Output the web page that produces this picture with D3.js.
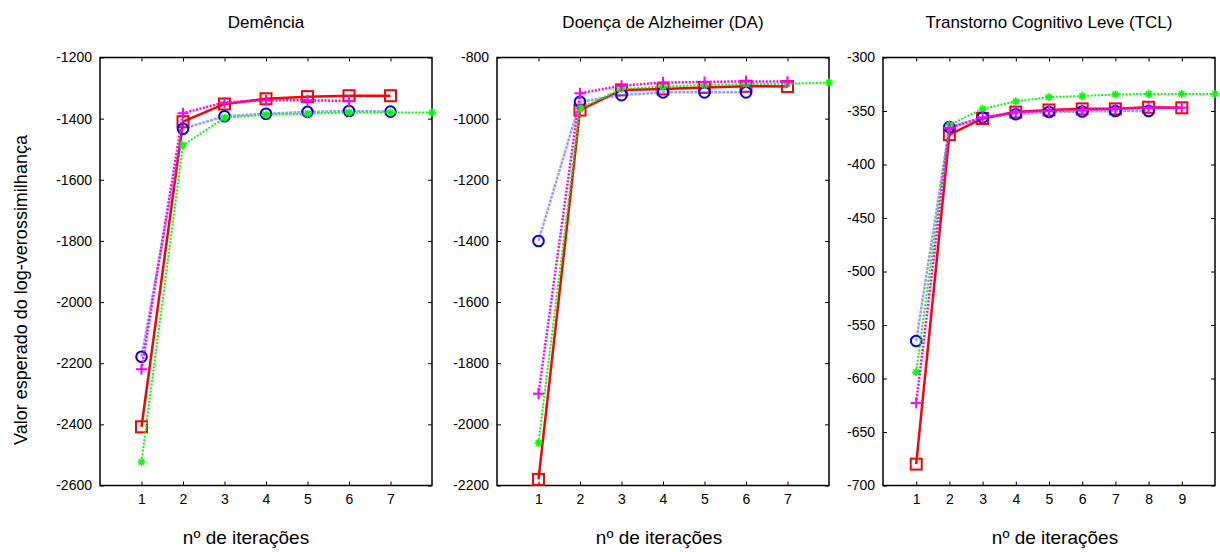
<!DOCTYPE html>
<html>
<head>
<meta charset="utf-8">
<script src="https://cdn.jsdelivr.net/npm/d3@7"></script>
<style>
  body { margin: 0; background: #fff; }
  text { font-family: "Liberation Sans", Arial, sans-serif; fill: #000; }
</style>
</head>
<body>
<svg width="1220" height="552"></svg>
<script>
// panel titles and axis setup
const titles = ['Demência', 'Doença de Alzheimer (DA)', 'Transtorno Cognitivo Leve (TCL)'];
const xDomains = [[0, 8], [0, 8], [0, 10]];
const xTicks = [[1, 2, 3, 4, 5, 6, 7], [1, 2, 3, 4, 5, 6, 7], [1, 2, 3, 4, 5, 6, 7, 8, 9]];
const yDomains = [[-2600, -1200], [-2200, -800], [-700, -300]];
const yTicks = [
    [-2600, -2400, -2200, -2000, -1800, -1600, -1400, -1200],
    [-2200, -2000, -1800, -1600, -1400, -1200, -1000, -800],
    [-700, -650, -600, -550, -500, -450, -400, -350, -300]
];

// series values per panel (index i -> iteration i+1)
const redSquare = [
    [-2408, -1410, -1352, -1335, -1328, -1325, -1325],
    [-2180, -972, -906, -903, -898, -894, -895],
    [-680, -372, -357, -351, -349, -348, -348, -346.5, -347]
];
const blueCircle = [
    [-2179, -1433, -1392, -1384, -1378, -1375, -1377],
    [-1400, -945, -923, -914, -914, -914],
    [-565, -365, -356, -353, -351, -350.5, -350, -350]
];
const magentaPlus = [
    [-2220, -1382, -1347, -1340, -1340, -1342],
    [-1900, -917, -892, -882, -880, -878, -879],
    [-623, -366, -356, -351, -350, -349, -348, -347, -347]
];
const greenStar = [
    [-2523, -1487, -1397, -1387, -1384, -1380, -1380, -1380],
    [-2061, -966, -903, -895, -890, -887, -886, -882],
    [-594, -363, -348, -341, -337, -336, -334.5, -334, -334, -334]
];

const svg = d3.select('svg');
const lefts = [100, 497, 883];
const plotTop = 57.5;
const w = 332;
const h = 428;

const styles = {
    red: { line: '#ff0000', mark: '#ff0000', width: 2.5, dash: null, symbol: 'square' },
    blue: { line: 'rgba(90,90,255,0.6)', mark: '#0000ff', width: 2.5, dash: '3,1', symbol: 'circle' },
    green: { line: '#00ff00', mark: '#00ff00', width: 2, dash: '2,1.5', symbol: 'star' },
    magenta: { line: '#ff00ff', mark: '#ff00ff', width: 2.5, dash: '2,1.5', symbol: 'plus' }
};

function drawMarker(g, kind, color, x, y) {
    if (kind === 'square') {
        g.append('rect').attr('x', x - 5.5).attr('y', y - 5.5).attr('width', 11).attr('height', 11)
            .attr('fill', 'none').attr('stroke', color).attr('stroke-width', 2);
    } else if (kind === 'circle') {
        g.append('circle').attr('cx', x).attr('cy', y).attr('r', 5.3)
            .attr('fill', 'none').attr('stroke', color).attr('stroke-width', 2);
    } else if (kind === 'plus') {
        g.append('path').attr('d', `M${x - 5.5},${y}H${x + 5.5}M${x},${y - 5.5}V${y + 5.5}`)
            .attr('stroke', color).attr('stroke-width', 2);
    } else {
        // asterisk-like star
        const r = 4;
        let d = '';
        for (let k = 0; k < 4; k++) {
            const a = k * Math.PI / 4;
            d += `M${x - r * Math.cos(a)},${y - r * Math.sin(a)}L${x + r * Math.cos(a)},${y + r * Math.sin(a)}`;
        }
        g.append('path').attr('d', d).attr('stroke', color).attr('stroke-width', 1.6);
    }
}

titles.forEach(function (title, p) {
    const g = svg.append('g').attr('transform', `translate(${lefts[p]},${plotTop})`);
    const x = d3.scaleLinear().domain(xDomains[p]).range([0, w]);
    const y = d3.scaleLinear().domain(yDomains[p]).range([h, 0]);
    const plain = d => String(d);

    // box with inward ticks on all sides
    g.append('g').attr('transform', `translate(0,${h})`)
        .call(d3.axisBottom(x).tickValues(xTicks[p]).tickFormat(plain).tickSizeInner(-4).tickSizeOuter(0).tickPadding(9))
        .call(s => s.select('.domain').remove());
    g.append('g')
        .call(d3.axisTop(x).tickValues(xTicks[p]).tickSizeInner(-4).tickSizeOuter(0).tickFormat(''))
        .call(s => s.select('.domain').remove());
    g.append('g')
        .call(d3.axisLeft(y).tickValues(yTicks[p]).tickFormat(plain).tickSizeInner(-4).tickSizeOuter(0).tickPadding(8))
        .call(s => s.select('.domain').remove());
    g.append('g').attr('transform', `translate(${w},0)`)
        .call(d3.axisRight(y).tickValues(yTicks[p]).tickSizeInner(-4).tickSizeOuter(0).tickFormat(''))
        .call(s => s.select('.domain').remove());
    g.selectAll('.tick text').attr('font-size', 14).attr('font-family', '"Liberation Sans", Arial, sans-serif');
    g.selectAll('.tick line').attr('stroke', '#000');
    g.append('rect').attr('width', w).attr('height', h)
        .attr('fill', 'none').attr('stroke', '#000').attr('stroke-width', 1.5);

    const series = [
        [redSquare[p], styles.red],
        [blueCircle[p], styles.blue],
        [greenStar[p], styles.green],
        [magentaPlus[p], styles.magenta]
    ];
    const line = d3.line().x((d, i) => x(i + 1)).y(d => y(d));
    series.forEach(function (s) {
        g.append('path').datum(s[0]).attr('d', line)
            .attr('fill', 'none').attr('stroke', s[1].line).attr('stroke-width', s[1].width)
            .attr('stroke-dasharray', s[1].dash);
        const mg = g.append('g');
        s[0].forEach((d, i) => drawMarker(mg, s[1].symbol, s[1].mark, x(i + 1), y(d)));
    });

    svg.append('text').attr('x', lefts[p] + w / 2).attr('y', 28)
        .attr('text-anchor', 'middle').attr('font-size', 17).text(title);
    svg.append('text').attr('x', lefts[p] + w / 2 - (p === 0 ? 20 : (p === 1 ? 4 : -6))).attr('y', 544)
        .attr('text-anchor', 'middle').attr('font-size', 19).text('nº de iterações');
});

svg.append('text').attr('transform', 'translate(27,290) rotate(-90)')
    .attr('text-anchor', 'middle').attr('font-size', 18).text('Valor esperado do log-verossimilhança');
</script>
</body>
</html>
